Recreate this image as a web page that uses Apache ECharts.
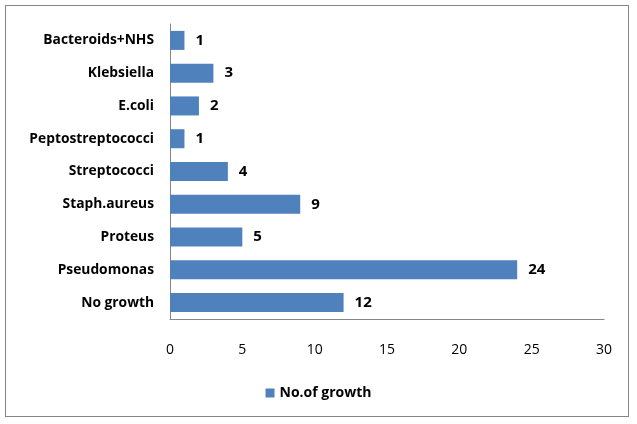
<!DOCTYPE html>
<html><head><meta charset="utf-8">
<script src="https://cdn.jsdelivr.net/npm/echarts@6/dist/echarts.min.js"></script>
<style>html,body{margin:0;padding:0;background:#fff}#c{width:637px;height:424px}
#frame{position:absolute;left:5px;top:5px;width:624px;height:412px;border:1px solid #868686;box-sizing:border-box;pointer-events:none}</style>
</head><body><div id="c"></div><div id="frame"></div>
<script>
const categories = ["No growth","Pseudomonas","Proteus","Staph.aureus","Streptococci","Peptostreptococci","E.coli","Klebsiella","Bacteroids+NHS"];
const values = [12,24,5,9,4,1,2,3,1];
const seriesName = "No.of growth";
const xTicks = [0,5,10,15,20,25,30];
const chart = echarts.init(document.getElementById('c'));
chart.setOption({
  animation:false,
  textStyle:{fontFamily:"Open Sans"},
  grid:{left:170,right:33,top:24,bottom:105,containLabel:false},
  legend:{bottom:19,left:'center',itemWidth:9,itemHeight:9,icon:'rect',itemGap:5,
    textStyle:{fontSize:14,fontWeight:'bold',color:'#000',fontFamily:"Open Sans"}},
  xAxis:{type:'value',min:xTicks[0],max:xTicks[xTicks.length-1],interval:5,
    axisLine:{show:true,lineStyle:{color:'#868686'}},axisTick:{show:false},splitLine:{show:false},
    axisLabel:{fontSize:14,color:'#000',margin:24}},
  yAxis:{type:'category',data:categories,
    axisLine:{show:true,lineStyle:{color:'#868686'}},axisTick:{show:false},
    axisLabel:{fontSize:13.8,fontWeight:'bold',color:'#000',margin:16}},
  series:[{name:seriesName,type:'bar',data:values,barCategoryGap:'42%',
    itemStyle:{color:'#4F81BD'},
    label:{show:true,position:'right',distance:11,fontSize:15,fontWeight:'bold',color:'#000'}}]
});
</script></body></html>
